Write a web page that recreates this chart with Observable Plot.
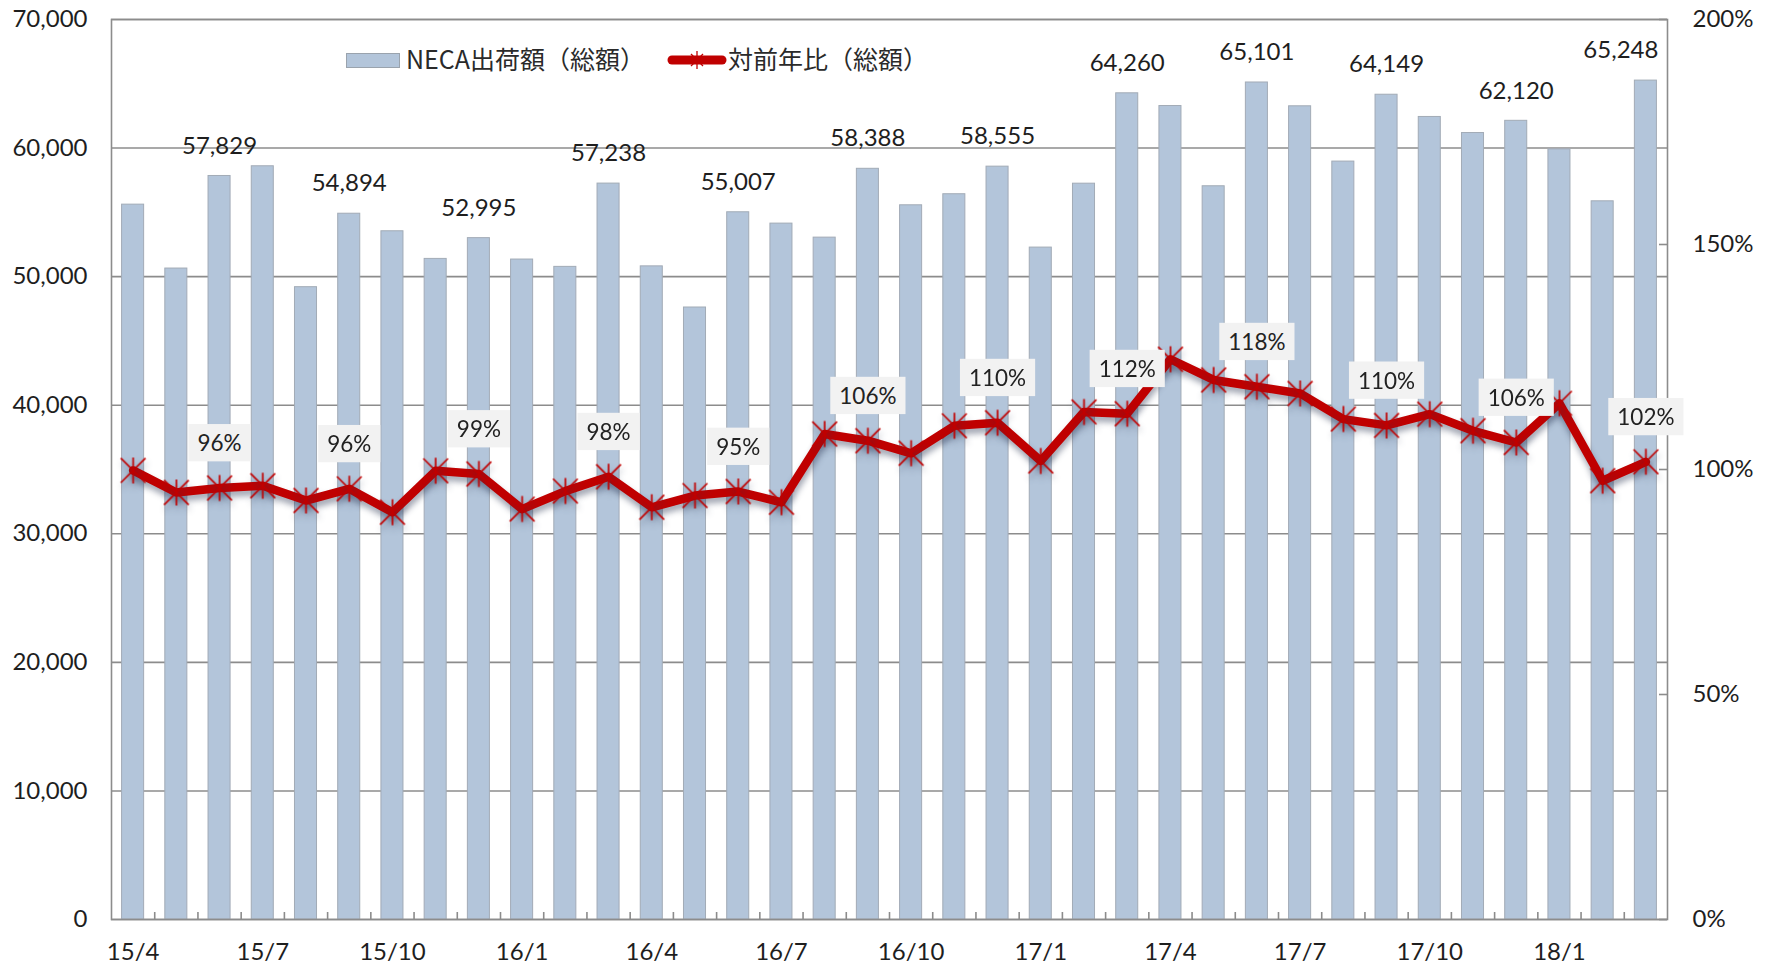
<!DOCTYPE html>
<html>
<head>
<meta charset="utf-8">
<script src="https://cdn.jsdelivr.net/npm/d3@7"></script>
<script src="https://cdn.jsdelivr.net/npm/@observablehq/plot@0.6"></script>
<style>
  body { margin: 0; background: #fff; }
  #wrap { position: relative; width: 1771px; height: 966px; }
  .leg { position: absolute; font-family: "Noto Sans CJK JP", "Noto Sans", sans-serif; font-size: 25px; color: #2a2a2a; line-height: 28px; white-space: nowrap; }
</style>
</head>
<body>
<div id="wrap"></div>
<script>
// ---- data ----
const months = [
  "15/4","15/5","15/6","15/7","15/8","15/9","15/10","15/11","15/12",
  "16/1","16/2","16/3","16/4","16/5","16/6","16/7","16/8","16/9","16/10","16/11","16/12",
  "17/1","17/2","17/3","17/4","17/5","17/6","17/7","17/8","17/9","17/10","17/11","17/12",
  "18/1","18/2","18/3"
];
// NECA出荷額（総額）
const values = [
  55600, 50630, 57829, 58585, 49180, 54894, 53530, 51380, 52995,
  51330, 50760, 57238, 50800, 47600, 55007, 54125, 53035, 58388, 55550, 56410, 58555,
  52260, 57230, 64260, 63270, 57030, 65101, 63250, 58950, 64149, 62420, 61170, 62120,
  59900, 55860, 65248
];
// 対前年比（総額） %
const ratios = [
  99.8, 94.9, 95.9, 96.4, 93.1, 95.7, 90.5, 99.7, 99.0,
  91.2, 95.2, 98.4, 91.6, 94.2, 95.1, 92.7, 107.9, 106.4, 103.6, 109.7, 110.4,
  101.9, 112.8, 112.4, 124.5, 119.9, 118.4, 116.9, 111.2, 109.8, 112.3, 108.6, 106.0,
  114.7, 97.5, 101.7
];
const labelMonths = ["15/6","15/9","15/12","16/3","16/6","16/9","16/12","17/3","17/6","17/9","17/12","18/3"];
const xTicks = ["15/4","15/7","15/10","16/1","16/4","16/7","16/10","17/1","17/4","17/7","17/10","18/1"];
const yTicks = [0, 10000, 20000, 30000, 40000, 50000, 60000, 70000];
const pctTicks = [0, 50, 100, 150, 200];
const legendBar = "NECA出荷額（総額）";
const legendLine = "対前年比（総額）";

// ---- layout ----
const W = 1771, H = 966;
const mL = 111, mR = 104, mT = 19, mB = 47;
const plotW = W - mL - mR, plotH = H - mT - mB;
const step = plotW / months.length;
const yMax = 70000, pctMax = 200, k = yMax / pctMax;

const data = months.map((m, i) => ({month: m, value: values[i], ratio: ratios[i]}));
const labeled = data.filter(d => labelMonths.includes(d.month));
const fmt = d3.format(",");
const grid = "#8c8c8c";
const red = "#c00000";

const star = {
  draw(ctx, size) {
    const s = Math.sqrt(size / Math.PI);
    const a = s * 0.95;
    ctx.moveTo(-a, -a); ctx.lineTo(a, a);
    ctx.moveTo(-a, a); ctx.lineTo(a, -a);
    ctx.moveTo(0, -s); ctx.lineTo(0, s);
  }
};

const chart = Plot.plot({
  width: W, height: H,
  marginLeft: mL, marginRight: mR, marginTop: mT, marginBottom: mB,
  style: {fontFamily: "Lato, 'Noto Sans', sans-serif", fontSize: "24px", color: "#1e1e1e", background: "#fff", overflow: "visible"},
  x: {type: "band", domain: months, paddingInner: 0.49, paddingOuter: 0.245, round: false},
  y: {domain: [0, yMax]},
  marks: [
    Plot.ruleY(yTicks, {stroke: grid, strokeWidth: 1.6}),
    Plot.barY(data, {x: "month", y: "value", fill: "#b3c5da", stroke: "#a2abb6", strokeWidth: 1}),
    Plot.frame({stroke: grid, strokeWidth: 1.6}),
    Plot.ruleX(months.slice(1), {x: d => d, dx: -step / 2, insetTop: plotH - 7, stroke: grid, strokeWidth: 1.6}),
    Plot.ruleY(pctTicks, {y: d => d * k, insetLeft: plotW - 8, stroke: grid, strokeWidth: 1.6}),
    Plot.axisY({anchor: "left", ticks: yTicks, tickFormat: fmt, tickSize: 0, tickPadding: 24, label: null}),
    Plot.axisY({anchor: "right", ticks: pctTicks.map(p => p * k), tickFormat: d => Math.round(d / k) + "%", tickSize: 0, tickPadding: 25, label: null}),
    Plot.axisX({ticks: xTicks, tickSize: 0, tickPadding: 23, label: null}),
    Plot.line(data, {x: "month", y: d => d.ratio * k, stroke: red, strokeWidth: 8.5, strokeLinejoin: "round"}),
    Plot.dot(data, {x: "month", y: d => d.ratio * k, symbol: star, r: 13, stroke: red, strokeWidth: 1.7, fill: "none"}),
    Plot.text(labeled.slice(0, -1), {x: "month", y: "value", text: d => fmt(d.value), dy: -30, fill: "#1e1e1e"}),
    Plot.text(labeled.slice(-1), {x: "month", y: "value", text: d => fmt(d.value), dy: -30, dx: -25, fill: "#1e1e1e"}),
    Plot.text(labeled, {x: "month", y: d => d.ratio * k, text: d => Math.round(d.ratio) + "%", dy: -44, fontSize: 22.5, fill: "#222"})
  ]
});

const wrap = document.getElementById("wrap");
wrap.append(chart);

// label boxes behind percentage labels
const textGroups = chart.querySelectorAll('g[aria-label="text"]');
const pctG = textGroups[textGroups.length - 1];
if (pctG) {
  for (const t of pctG.querySelectorAll("text")) {
    const b = t.getBBox();
    const cy = b.y + b.height / 2;
    const r = document.createElementNS("http://www.w3.org/2000/svg", "rect");
    r.setAttribute("x", b.x - 9);
    r.setAttribute("y", cy - 18.6);
    r.setAttribute("width", b.width + 18);
    r.setAttribute("height", 37.3);
    r.setAttribute("fill", "#f2f2f2");
    r.setAttribute("stroke", "none");
    if (t.getAttribute("transform")) r.setAttribute("transform", t.getAttribute("transform"));
    t.parentNode.insertBefore(r, t);
  }
}
// soft shadows like the original
for (const sel of ['g[aria-label="line"]', 'g[aria-label="dot"]']) {
  const g = chart.querySelector(sel);
  if (g) g.style.filter = "drop-shadow(1px 5px 3px rgba(40,50,80,0.45))";
}

// legend (overlay inside the plot frame)
const l1 = document.createElement("div");
l1.className = "leg";
l1.style.left = "346px"; l1.style.top = "44px";
l1.innerHTML = `<span style="display:inline-block;width:52px;height:13px;background:#b3c5da;border:1px solid #9aa3ad;vertical-align:middle;margin-right:6px;position:relative;top:-2px"></span>${legendBar}`;
wrap.append(l1);
const l2 = document.createElement("div");
l2.className = "leg";
l2.style.left = "667px"; l2.style.top = "44px";
l2.innerHTML = `<svg width="60" height="26" style="vertical-align:middle;margin-right:1px;position:relative;top:-2px"><line x1="5" y1="13" x2="55" y2="13" stroke="${red}" stroke-width="9" stroke-linecap="round"/><path d="M24,7L36,19M24,19L36,7M30,4L30,22" stroke="${red}" stroke-width="1.3" fill="none"/></svg>${legendLine}`;
wrap.append(l2);
</script>
</body>
</html>
